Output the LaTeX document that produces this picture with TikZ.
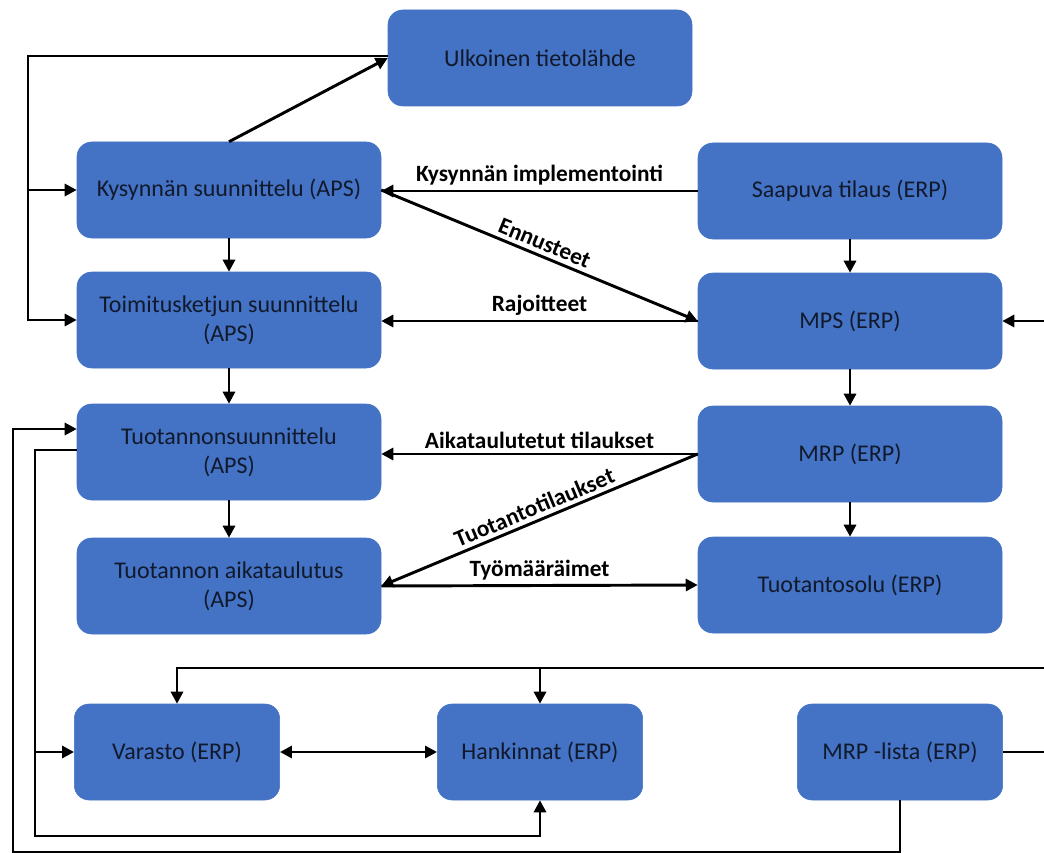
\documentclass[tikz,border=0pt]{standalone}
\usepackage{fontspec}
\setmainfont{Carlito}
\usetikzlibrary{arrows.meta,calc}
\definecolor{boxblue}{HTML}{4472C4}
\definecolor{txt}{HTML}{111A2C}
\begin{document}
\begin{tikzpicture}[x=0.75pt,y=-0.75pt,
  box/.style={rectangle,rounded corners=11pt,fill=boxblue,draw=boxblue,
    minimum width=228pt,minimum height=72pt,inner sep=2pt,align=center,
    text=txt,font=\fontsize{18}{22}\selectfont},
  sbox/.style={box,minimum width=154pt},
  conn/.style={line width=2.2pt,black},
  arr/.style={conn,-{Triangle[length=9pt,width=9pt]}},
  darr/.style={conn,{Triangle[length=9pt,width=9pt]}-{Triangle[length=9pt,width=9pt]}},
  lab/.style={font=\bfseries\fontsize{17.5}{20}\selectfont,inner sep=3pt}]
\useasboundingbox (0,0) rectangle (1044,852);
% nodes
\node[box] (U) at (540,58) {Ulkoinen tietolähde};
\node[box] (K) at (229,190) {Kysynnän suunnittelu (APS)};
\node[box] (T) at (229,320) {Toimitusketjun suunnittelu\\(APS)};
\node[box] (TS) at (229,452) {Tuotannonsuunnittelu\\(APS)};
\node[box] (TA) at (229,586) {Tuotannon aikataulutus\\(APS)};
\node[box] (S) at (850,191) {Saapuva tilaus (ERP)};
\node[box] (M) at (850,321) {MPS (ERP)};
\node[box] (MR) at (850,454) {MRP (ERP)};
\node[box] (TSo) at (850,585) {Tuotantosolu (ERP)};
\node[sbox] (V) at (177,752) {Varasto (ERP)};
\node[sbox] (H) at (540,752) {Hankinnat (ERP)};
\node[sbox] (ML) at (900,752) {MRP -lista (ERP)};
% coordinates
\coordinate (L1) at (28,56);
\coordinate (B2) at (35,836);
\coordinate (L3) at (13,852);
\coordinate (TSin) at ($(TS.west)+(0,-23)$);
\coordinate (TSout) at ($(TS.west)+(0,-2)$);
\coordinate (R1) at (1044,668);
\coordinate (R2) at (1044,752);
\coordinate (R3) at (1044,321);
\coordinate (Uw) at ($(U.west)+(0,-2)$);
% vertical chains
\draw[arr] (K) -- (T);
\draw[arr] (T) -- (TS);
\draw[arr] (TS) -- (TA);
\draw[arr] (S) -- (M);
\draw[arr] (M) -- (MR);
\draw[arr] (MR) -- (TSo);
% top
\draw[arr] (K.north) -- (U.west);
\draw[arr] (Uw) -- (L1) |- (T.west);
\draw[arr] (L1 |- K.west) -- (K.west);
% horizontal labelled
\draw[arr] (S.west) -- node[lab,above]{Kysynnän implementointi} (S.west -| K.east);
\draw[arr] (K.east) -- node[lab,above,sloped]{Ennusteet} (M.west);
\draw[arr] (M.west) -- node[lab,above]{Rajoitteet} (M.west -| T.east);
\draw[arr] (MR.west) -- node[lab,above]{Aikataulutetut tilaukset} (MR.west -| TS.east);
\draw[arr] (MR.west) -- node[lab,above,sloped]{Tuotantotilaukset} (TA.east);
\draw[arr] (TA.east) -- node[lab,above]{Työmääräimet} (TSo.west);
% right edge
\draw[arr] (R3) -- (M.east);
\draw[conn] (ML.east) -- (R2);
\draw[arr] (R1) -| (V.north);
\draw[arr] (H.north |- R1) -- (H.north);
% bottom
\draw[darr] (V.east) -- (H.west);
\draw[arr] (TSout) -- (B2 |- TSout) -- (B2) -| (H.south);
\draw[arr] (B2 |- V.west) -- (V.west);
\draw[arr] (ML.south) -- (ML.south |- L3) -- (L3) |- (TSin);
\end{tikzpicture}
\end{document}
